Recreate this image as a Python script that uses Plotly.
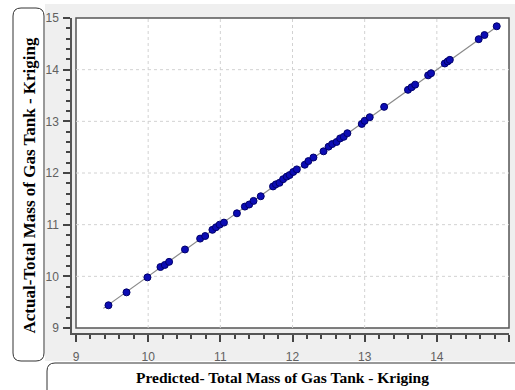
import plotly.graph_objects as go

# Kriging cross-validation: predicted vs actual total mass of the gas tank
predicted = [9.45, 9.70, 9.99, 10.17, 10.23, 10.29, 10.51, 10.72, 10.79, 10.89,
             10.94, 10.99, 11.05, 11.23, 11.34, 11.40, 11.46, 11.56, 11.73, 11.77,
             11.82, 11.87, 11.92, 11.96, 12.01, 12.06, 12.17, 12.22, 12.29, 12.43,
             12.50, 12.55, 12.61, 12.66, 12.71, 12.76, 12.96, 13.00, 13.07, 13.27,
             13.60, 13.65, 13.70, 13.88, 13.92, 14.11, 14.15, 14.18, 14.58, 14.66,
             14.83]
actual = [9.44, 9.69, 9.98, 10.18, 10.22, 10.28, 10.52, 10.73, 10.78, 10.90,
          10.95, 11.00, 11.04, 11.22, 11.35, 11.39, 11.46, 11.55, 11.74, 11.78,
          11.81, 11.88, 11.93, 11.96, 12.02, 12.07, 12.16, 12.23, 12.30, 12.42,
          12.51, 12.56, 12.60, 12.67, 12.70, 12.77, 12.95, 13.01, 13.08, 13.28,
          13.61, 13.66, 13.71, 13.89, 13.93, 14.12, 14.16, 14.19, 14.59, 14.67,
          14.84]
fit_line = [9.38, 14.85]
ticks = [9, 10, 11, 12, 13, 14, 15]

W, H = 515, 390
ML, MR, MT, MB = 72, 6, 18, 57
PW, PH = W - ML - MR, H - MT - MB
GAP_X, GAP_Y = 4, 5          # offset of the axis lines from the plot frame (px)

lo, hi = ticks[0], ticks[-1]
x_scale = (PW - GAP_X) / (hi - lo)
y_scale = (PH - GAP_Y) / (hi - lo)
x_range = [lo - GAP_X / x_scale, hi]
y_range = [lo - GAP_Y / y_scale, hi]


def px(x):
    return (x - ML) / PW


def py(y):
    return (H - MB - y) / PH


fig = go.Figure()

fig.add_trace(go.Scatter(x=fit_line, y=fit_line, mode="lines",
                         line=dict(color="#8a8a8a", width=1.2),
                         hoverinfo="skip", showlegend=False))
fig.add_trace(go.Scatter(x=predicted, y=actual, mode="markers",
                         marker=dict(size=7, color="#0c0cb4",
                                     line=dict(color="#00006a", width=1)),
                         showlegend=False))

axis_common = dict(
    tickmode="linear", tick0=lo, dtick=1,
    showgrid=False, zeroline=False,
    showline=True, linecolor="#555555", linewidth=1.5,
    ticks="outside", ticklen=7, tickcolor="#444444", tickwidth=1.5,
    minor=dict(tick0=lo, dtick=0.2, ticks="outside", ticklen=4,
               tickcolor="#444444", tickwidth=1.5, showgrid=False),
    tickfont=dict(family="Liberation Sans, Arial", size=12, color="#606060"),
    fixedrange=True,
)

fig.update_layout(
    width=W, height=H,
    margin=dict(l=ML, r=MR, t=MT, b=MB),
    paper_bgcolor="white",
    plot_bgcolor="rgba(0,0,0,0)",
    xaxis=dict(range=x_range, ticklabelstandoff=5, **axis_common),
    yaxis=dict(range=y_range, ticklabelstandoff=2, **axis_common),
)


def rounded_box(x0, y0, x1, y1, r):
    rx, ry = r / PW, r / PH
    X0, X1 = px(x0), px(x1)
    Yt, Yb = py(y0), py(y1)
    return (f"M {X0 + rx},{Yt} L {X1 - rx},{Yt} Q {X1},{Yt} {X1},{Yt - ry} "
            f"L {X1},{Yb + ry} Q {X1},{Yb} {X1 - rx},{Yb} "
            f"L {X0 + rx},{Yb} Q {X0},{Yb} {X0},{Yb + ry} "
            f"L {X0},{Yt - ry} Q {X0},{Yt} {X0 + rx},{Yt} Z")


fx0 = GAP_X / PW      # frame edges as fractions of the axis domains
fy0 = GAP_Y / PH

shapes = [
    # light grey chart panel
    dict(type="rect", xref="paper", yref="paper", layer="below",
         x0=px(45), x1=px(W + 2), y0=py(361), y1=py(4),
         fillcolor="#efefef", line=dict(width=0)),
    # white framed plotting region
    dict(type="rect", xref="x domain", yref="y domain", layer="below",
         x0=fx0, x1=1, y0=fy0, y1=1, fillcolor="white",
         line=dict(color="#555555", width=1.5)),
]
# dotted grid inside the frame
for t in ticks[1:-1]:
    shapes.append(dict(type="line", xref="x", yref="y domain", layer="below",
                       x0=t, x1=t, y0=fy0, y1=1,
                       line=dict(color="#d2d2d2", width=1, dash="dot")))
    shapes.append(dict(type="line", xref="x domain", yref="y", layer="below",
                       x0=fx0, x1=1, y0=t, y1=t,
                       line=dict(color="#d2d2d2", width=1, dash="dot")))
shapes += [
    # y title box
    dict(type="path", xref="paper", yref="paper",
         path=rounded_box(13, 8, 44, 361, 8),
         line=dict(color="#333333", width=1), fillcolor="rgba(0,0,0,0)"),
    # x title box
    dict(type="path", xref="paper", yref="paper",
         path=(f"M {px(47)},{py(H + 3)} L {px(47)},{py(371)} "
               f"Q {px(47)},{py(363)} {px(55)},{py(363)} "
               f"L {px(W + 3)},{py(363)} L {px(W + 3)},{py(H + 3)} Z"),
         line=dict(color="#333333", width=1), fillcolor="rgba(0,0,0,0)"),
]
fig.update_layout(shapes=shapes)

fig.add_annotation(text="<b>Actual-Total Mass of Gas Tank - Kriging</b>",
                   xref="paper", yref="paper", x=px(28.5), y=py(186),
                   textangle=-90, showarrow=False,
                   font=dict(family="Liberation Serif, Times New Roman", size=17,
                             color="black"),
                   xanchor="center", yanchor="middle")
fig.add_annotation(text="<b>Predicted- Total Mass of Gas Tank - Kriging</b>",
                   xref="paper", yref="paper", x=px(282), y=py(377),
                   showarrow=False,
                   font=dict(family="Liberation Serif, Times New Roman", size=15.5,
                             color="black"),
                   xanchor="center", yanchor="middle")

fig.write_html("out.html", config={"displayModeBar": False})
